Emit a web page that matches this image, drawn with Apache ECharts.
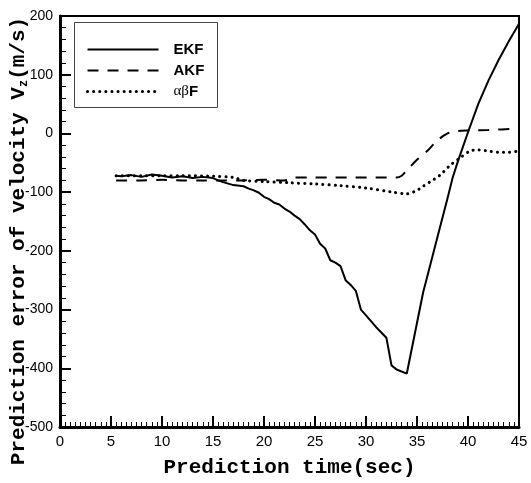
<!DOCTYPE html>
<html>
<head>
<meta charset="utf-8">
<script src="https://cdn.jsdelivr.net/npm/echarts@6/dist/echarts.min.js"></script>
<style>html,body{margin:0;padding:0;background:#fff;}#c{width:531px;height:483px;}</style>
</head>
<body>
<div id="c"></div>
<script>
// ---- data ----
var seriesNames = ['EKF', 'AKF', 'αβF'];
var ekfT = [5.5, 6, 7, 8, 9, 10, 11, 12, 13, 14, 15, 15.5, 16, 17, 18, 18.5, 19, 19.5, 20, 20.5, 21, 21.5, 22, 22.5, 23, 23.5, 24, 24.5, 25, 25.5, 26, 26.5, 27, 27.5, 28, 28.5, 29, 29.5, 30, 31, 32, 32.5, 33, 34, 35.6, 36, 37, 38, 38.5, 39, 40, 41, 42, 43, 44, 45];
var ekfV = [-72, -73, -71, -74, -70, -72, -75, -73, -76, -74, -76, -80, -83, -88, -90, -94, -97, -101, -108, -112, -118, -121, -128, -133, -140, -146, -155, -165, -172, -188, -196, -216, -220, -226, -250, -258, -268, -300, -310, -330, -348, -395, -402, -409, -271, -244, -177, -110, -75, -48, 2, 50, 90, 125, 157, 187];
var akfT = [5.5, 8, 10, 12, 14, 16, 18, 20, 22, 22.5, 23, 25, 27, 29, 31, 33, 33.5, 34, 35, 36, 37, 38, 39, 40, 42, 45];
var akfV = [-80, -80, -79, -80, -80, -80, -80, -79, -80, -78, -75, -75, -75, -75, -75, -75, -72, -63, -45, -30, -12, 0, 4, 5, 6, 8];
var abfT = [5.5, 8, 10, 12, 15, 17, 18, 20, 22.5, 25, 27.5, 30, 32.6, 34, 35, 35.6, 36.5, 37.2, 38.2, 39.2, 40.2, 41, 42, 43, 44, 45];
var abfV = [-72, -72, -72, -72, -73, -75, -80, -82, -84, -86, -89, -93, -100, -103, -97, -90, -80, -72, -55, -42, -30, -28, -30, -32, -32, -30];
var xTicks = {min: 0, max: 45, interval: 5};
var yTicks = {min: -500, max: 200, interval: 100};

function pairs(t, v) { return t.map(function (x, i) { return [x, v[i]]; }); }

var chart = echarts.init(document.getElementById('c'), null, {renderer: 'canvas'});
var axisFont = 'Liberation Sans';
var monoFont = 'Liberation Mono';
var dotStyle = {color: '#000', width: 3, type: [0.1, 6], cap: 'round'};
chart.setOption({
  animation: false,
  backgroundColor: '#fff',
  grid: {left: 60, right: 12, top: 16, bottom: 49, show: true, borderColor: '#000', borderWidth: 2},
  legend: {
    show: true, orient: 'vertical', left: 86, top: 42, padding: 0,
    itemWidth: 71, itemHeight: 14, itemGap: 6,
    itemStyle: {opacity: 0},
    data: [seriesNames[0], seriesNames[1], {name: seriesNames[2], lineStyle: {width: 3, type: [0.1, 6], cap: 'round'}}],
    formatter: function (n) { return n === 'αβF' ? '{g|αβ}{f|F}' : '{f|' + n + '}'; },
    textStyle: {
      color: '#000', padding: [0, 0, 0, 10],
      rich: {
        g: {fontFamily: 'Liberation Serif', fontSize: 15, fontWeight: 'normal', color: '#000'},
        f: {fontFamily: axisFont, fontSize: 15, fontWeight: 'bold', color: '#000'}
      }
    }
  },
  graphic: [
    {type: 'rect', shape: {x: 74.5, y: 22.5, width: 143, height: 85}, style: {fill: 'none', stroke: '#444', lineWidth: 1}, z: 100},
    {type: 'text', x: 19, y: 241, rotation: Math.PI / 2, z: 100,
      style: {
        text: '{t|Prediction error of velocity V}{s|z}{t|(m/s)}',
        align: 'center', verticalAlign: 'middle',
        rich: {
          t: {fontFamily: monoFont, fontSize: 21, fontWeight: 'bold', fill: '#000', lineHeight: 22},
          s: {fontFamily: monoFont, fontSize: 12, fontWeight: 'bold', fill: '#000', padding: [10, 0, 0, 0], lineHeight: 22}
        }
      }
    }
  ],
  xAxis: {
    type: 'value', min: xTicks.min, max: xTicks.max, interval: xTicks.interval,
    name: 'Prediction time(sec)', nameLocation: 'middle', nameGap: 30,
    nameTextStyle: {fontFamily: monoFont, fontSize: 21, fontWeight: 'bold', color: '#000'},
    axisLine: {show: true, onZero: false, lineStyle: {color: '#000', width: 3}},
    axisTick: {show: true, inside: true, length: 11, lineStyle: {color: '#000', width: 2}},
    minorTick: {show: true, splitNumber: 10, length: 5, lineStyle: {color: '#000', width: 1}},
    axisLabel: {fontFamily: axisFont, fontSize: 15, color: '#000', margin: 7},
    splitLine: {show: false}
  },
  yAxis: {
    type: 'value', min: yTicks.min, max: yTicks.max, interval: yTicks.interval,
    axisLine: {show: true, onZero: false, lineStyle: {color: '#000', width: 3}},
    axisTick: {show: true, inside: true, length: 11, lineStyle: {color: '#000', width: 2}},
    minorTick: {show: true, splitNumber: 5, length: 6, lineStyle: {color: '#000', width: 1}},
    axisLabel: {fontFamily: axisFont, fontSize: 14, color: '#000', margin: 7},
    splitLine: {show: false}
  },
  series: [
    {name: seriesNames[0], type: 'line', data: pairs(ekfT, ekfV), showSymbol: false, symbol: 'none',
      lineStyle: {color: '#000', width: 2, type: 'solid'}, itemStyle: {color: '#000'}},
    {name: seriesNames[1], type: 'line', data: pairs(akfT, akfV), showSymbol: false, symbol: 'none', smooth: 0.3,
      lineStyle: {color: '#000', width: 2, type: [11, 9]}, itemStyle: {color: '#000'}},
    {name: seriesNames[2], type: 'line', data: pairs(abfT, abfV), showSymbol: false, symbol: 'none', smooth: 0.3,
      lineStyle: dotStyle, itemStyle: {color: '#000'}}
  ]
});
</script>
</body>
</html>
